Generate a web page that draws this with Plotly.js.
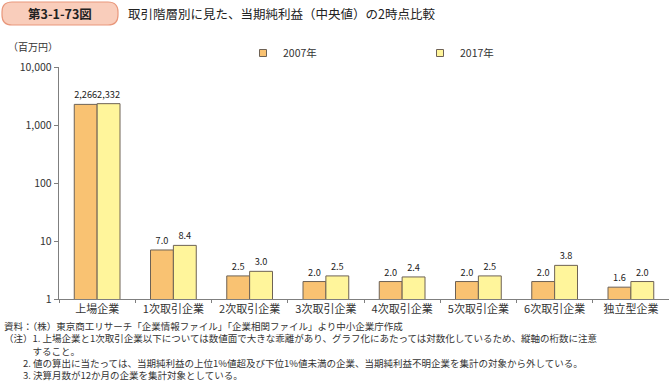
<!DOCTYPE html>
<html><head><meta charset="utf-8">
<script src="https://cdn.plot.ly/plotly-3.0.1.min.js"></script>
<style>html,body{margin:0;padding:0;background:#fff}#c{width:669px;height:383px}</style>
</head><body><div id="c"></div>
<script>
const categories = ["上場企業","1次取引企業","2次取引企業","3次取引企業","4次取引企業","5次取引企業","6次取引企業","独立型企業"];
const values2007 = [2266, 7.0, 2.5, 2.0, 2.0, 2.0, 2.0, 1.6];
const values2017 = [2332, 8.4, 3.0, 2.5, 2.4, 2.5, 3.8, 2.0];
const seriesNames = ["2007年", "2017年"];
const yTickVals = [1, 10, 100, 1000, 10000];
const yTickText = ["1", "10", "100", "1,000", "10,000"];
const noteLines = [
  '資料：（株）東京商工リサーチ「企業情報ファイル」「企業相関ファイル」より中小企業庁作成',
  '（注）1. 上場企業と1次取引企業以下については数値面で大きな乖離があり、グラフ化にあたっては対数化しているため、縦軸の桁数に注意',
  '　　　すること。',
  '　　2. 値の算出に当たっては、当期純利益の上位1%値超及び下位1%値未満の企業、当期純利益不明企業を集計の対象から外している。',
  '　　3. 決算月数が12か月の企業を集計対象としている。'
];

const FONT = '"Noto Sans CJK JP", "Noto Sans", sans-serif';
const L = 59, R = 669, T = 67, B = 299;
const fx = px => (px - L) / (R - L);
const fy = py => (B - py) / (B - T);
const fmt = v => v >= 100 ? v.toLocaleString('en-US') : v.toFixed(1);
const COLORS = ['#F9C272', '#FFF59B'];
const EDGE = '#6e6255';

function rr(x0, y0, x1, y1, r) {
  const P = (x, y) => fx(x) + ',' + fy(y);
  return 'M' + P(x0 + r, y0) + ' L' + P(x1 - r, y0) +
    ' Q' + P(x1, y0) + ' ' + P(x1, y0 + r) +
    ' L' + P(x1, y1 - r) + ' Q' + P(x1, y1) + ' ' + P(x1 - r, y1) +
    ' L' + P(x0 + r, y1) + ' Q' + P(x0, y1) + ' ' + P(x0, y1 - r) +
    ' L' + P(x0, y0 + r) + ' Q' + P(x0, y0) + ' ' + P(x0 + r, y0) + ' Z';
}

const barTrace = (vals, i) => ({type: 'bar', name: seriesNames[i], x: categories, y: vals,
  showlegend: false, text: vals.map(fmt), textposition: 'outside', cliponaxis: false,
  constraintext: 'none', textangle: 0,
  textfont: {family: FONT, size: 9.2, color: '#222'},
  marker: {color: COLORS[i], line: {color: EDGE, width: 1}}});
const legTrace = i => ({type: 'scatter', mode: 'markers', name: seriesNames[i], x: [null], y: [null],
  marker: {symbol: 'square', size: 7, color: COLORS[i], line: {color: EDGE, width: 1}}});

const traces = [barTrace(values2007, 0), barTrace(values2017, 1), legTrace(0), legTrace(1)];

const ann = (text, px, py, opts) => Object.assign({text, x: fx(px), y: fy(py), xref: 'paper', yref: 'paper',
  showarrow: false, xanchor: 'left', yanchor: 'middle',
  font: {family: FONT, size: 9.7, color: '#333'}}, opts || {});

const layout = {
  width: 669, height: 383,
  margin: {l: L, r: 669 - R, t: T, b: 383 - B},
  paper_bgcolor: '#fff', plot_bgcolor: '#fff',
  font: {family: FONT, size: 11, color: '#333'},
  barmode: 'group', bargap: 0.4, bargroupgap: 0,
  showlegend: true,
  legend: {orientation: 'h', x: fx(243), y: fy(53), xanchor: 'left', yanchor: 'middle',
    entrywidth: 132, entrywidthmode: 'pixels', itemwidth: 30, traceorder: 'normal',
    font: {family: FONT, size: 10.5, color: '#333'}, bgcolor: 'rgba(0,0,0,0)'},
  xaxis: {type: 'category', showline: true, linecolor: '#7f7f7f', linewidth: 1.2,
    ticks: 'outside', tickson: 'boundaries', ticklen: 3, tickcolor: '#7f7f7f',
    tickangle: 0, automargin: false,
    showgrid: false, zeroline: false, fixedrange: true,
    tickfont: {family: FONT, size: 11, color: '#333'}},
  yaxis: {type: 'log', range: [0, 4], showline: true, linecolor: '#7f7f7f', linewidth: 1.2,
    ticks: 'outside', ticklen: 4, tickcolor: '#7f7f7f', automargin: false,
    tickvals: yTickVals, ticktext: yTickText, showgrid: false, zeroline: false,
    tickfont: {family: FONT, size: 10.5, color: '#333'}},
  shapes: [
    {type: 'path', xref: 'paper', yref: 'paper', path: rr(2, 2, 118, 25, 10),
     fillcolor: '#F9CDBB', line: {color: '#E9987C', width: 1.2}, layer: 'above'}
  ],
  annotations: [
    ann('第3-1-73図', 60, 13.5, {xanchor: 'center', font: {family: FONT, size: 12.5, color: '#222', weight: 'bold'}}),
    ann('取引階層別に見た、当期純利益（中央値）の2時点比較', 126, 13.5, {font: {family: FONT, size: 12.5, color: '#222'}}),
    ann('（百万円）', 6, 46, {font: {family: FONT, size: 10, color: '#333'}}),
    ann(noteLines.join('<br>'), 2, 350.5, {align: 'left', font: {family: FONT, size: 9.5, color: '#333'}})
  ]
};

Plotly.newPlot('c', traces, layout, {staticPlot: true, displayModeBar: false});
</script></body></html>
